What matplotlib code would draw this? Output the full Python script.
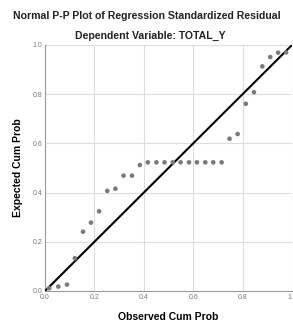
import matplotlib
matplotlib.use("Agg")
import matplotlib.pyplot as plt

# observed vs expected cumulative probabilities
observed = [0.017, 0.054, 0.089, 0.121, 0.154, 0.186, 0.219, 0.252, 0.285,
            0.318, 0.352, 0.384, 0.416, 0.451, 0.484, 0.517, 0.549, 0.583,
            0.615, 0.649, 0.681, 0.715, 0.747, 0.780, 0.813, 0.846, 0.880,
            0.912, 0.944, 0.976]
expected = [0.011, 0.018, 0.026, 0.133, 0.241, 0.278, 0.324, 0.407, 0.416,
            0.469, 0.469, 0.512, 0.523, 0.523, 0.523, 0.523, 0.523, 0.523,
            0.523, 0.523, 0.523, 0.523, 0.619, 0.638, 0.761, 0.808, 0.913,
            0.951, 0.969, 0.970]
ticks = [0.0, 0.2, 0.4, 0.6, 0.8, 1.0]
tick_labels = ["0.0", "0.2", "0.4", "0.6", "0.8", "1.0"]

plt.rcParams["font.family"] = ["Liberation Sans", "DejaVu Sans"]

fig = plt.figure(figsize=(2.93, 3.22), dpi=100)
ax = fig.add_axes([0.1536, 0.0963, 0.843, 0.764])

ax.grid(True, color="#dddddd", linewidth=0.8)
ax.set_axisbelow(True)
ax.plot([0, 1], [0, 1], color="black", linewidth=1.5, zorder=3)
ax.scatter(observed, expected, s=11, color="#7a7a7a", edgecolors="none", zorder=4)

ax.set_xlim(0, 1)
ax.set_ylim(0, 1)
ax.set_xticks(ticks)
ax.set_xticklabels(tick_labels)
ax.set_yticks(ticks)
ax.set_yticklabels(tick_labels)
ax.tick_params(labelsize=5, colors="#777777", length=0, pad=2)

for side in ("top", "right"):
    ax.spines[side].set_visible(False)
for side in ("left", "bottom"):
    ax.spines[side].set_color("#999999")
    ax.spines[side].set_linewidth(0.8)

ax.set_xlabel("Observed Cum Prob", fontsize=7.5, fontweight="bold", labelpad=8)
ax.set_ylabel("Expected Cum Prob", fontsize=7.5, fontweight="bold", labelpad=7)

fig.text(0.5, 1 - 16 / 322, "Normal P-P Plot of Regression Standardized Residual",
         ha="center", va="center", fontsize=7.6, fontweight="bold", color="#222222")
fig.text(0.512, 1 - 36 / 322, "Dependent Variable: TOTAL_Y",
         ha="center", va="center", fontsize=7.6, fontweight="bold", color="#222222")

fig.savefig("out.png", dpi=100)
